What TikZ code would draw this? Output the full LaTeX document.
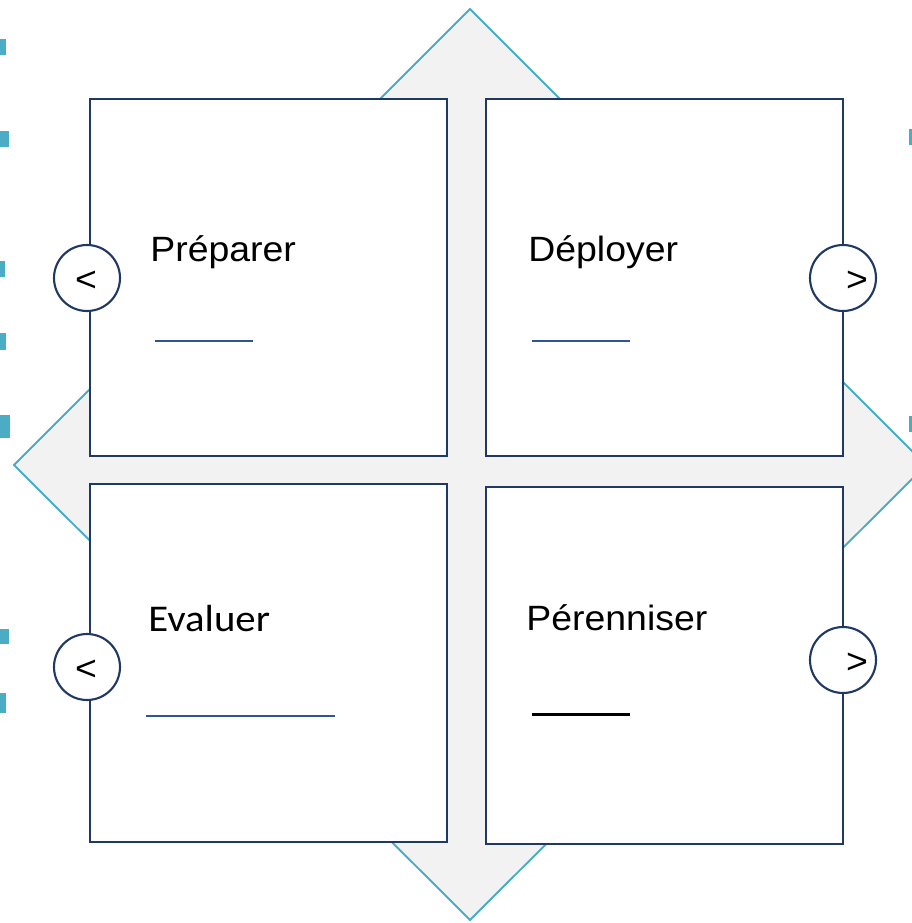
\documentclass[tikz,border=0pt]{standalone}
\usepackage{fontspec}
\setmainfont{Liberation Sans}[FakeStretch=1.065]
\newfontfamily\calibrifont{Carlito}[FakeStretch=1.08]
\usetikzlibrary{positioning}

\definecolor{navyline}{HTML}{203864}
\definecolor{skyline}{HTML}{4BACC6}
\definecolor{panelgrey}{HTML}{F2F2F2}
\definecolor{ruleblue}{HTML}{2F5597}

\begin{document}
\begin{tikzpicture}[x=0.02cm,y=-0.02cm,
  box/.style={draw=navyline,line width=1.4pt,fill=white},
  knob/.style={circle,draw=navyline,line width=1.2pt,fill=white,
    minimum size=1.32cm,inner sep=0pt},
  title/.style={anchor=base west,inner sep=0pt,font=\fontsize{20}{24}\selectfont},
  sign/.style={inner sep=0pt,font=\fontsize{20}{24}\selectfont}]
\useasboundingbox (0,0) rectangle (912,923);
\clip (0,0) rectangle (912,923);

% Grey diamond behind the four panels.
\draw[skyline,line width=1.1pt,fill=panelgrey]
  (470,9) -- (926,465) -- (470,920) -- (14,465) -- cycle;

% Small markers cut off at the page edges.
\foreach \ya/\yb/\xb in {39/55/6, 131/147/9, 261/277/5, 333/350/6,
                         415/438/10, 629/644/9, 693/713/6}
  \fill[skyline] (0,\ya) rectangle (\xb,\yb);
\foreach \ya/\yb in {129/145, 416/432}
  \fill[skyline] (909,\ya) rectangle (912,\yb);

% Four panels.
\draw[box] (90,99) rectangle (447,456);
\draw[box] (486,99) rectangle (843,456);
\draw[box] (90,484) rectangle (447,842);
\draw[box] (486,487) rectangle (843,844);

% Panel titles.
\node[title] (prep) at (150,261) {Préparer};
\node[title] (depl) at (528,261) {Déployer};
\node[title,font=\calibrifont\fontsize{21.5}{25}\selectfont] (eval) at (148,631) {Evaluer};
\node[title] (pere) at (526,630) {Pérenniser};

% Rules under the titles.
\draw[ruleblue,line width=1.1pt] (155,341) -- (253,341);
\draw[ruleblue,line width=1.1pt] (532,341) -- (630,341);
\draw[ruleblue,line width=0.7pt] (146,716) -- (335,716);
\draw[black,line width=1.7pt] (532,714) -- (630,714);

% Round buttons on the outer edges.
\node[knob] (knobtl) at (87,278) {};
\node[knob] (knobtr) at (843,278) {};
\node[knob] (knobbl) at (87,667) {};
\node[knob] (knobbr) at (843,660) {};
\node[sign] (signtl) at (86,281) {<};
\node[sign] (signtr) at (857,281) {>};
\node[sign] (signbl) at (86,670) {<};
\node[sign] (signbr) at (857,663) {>};
\end{tikzpicture}
\end{document}
